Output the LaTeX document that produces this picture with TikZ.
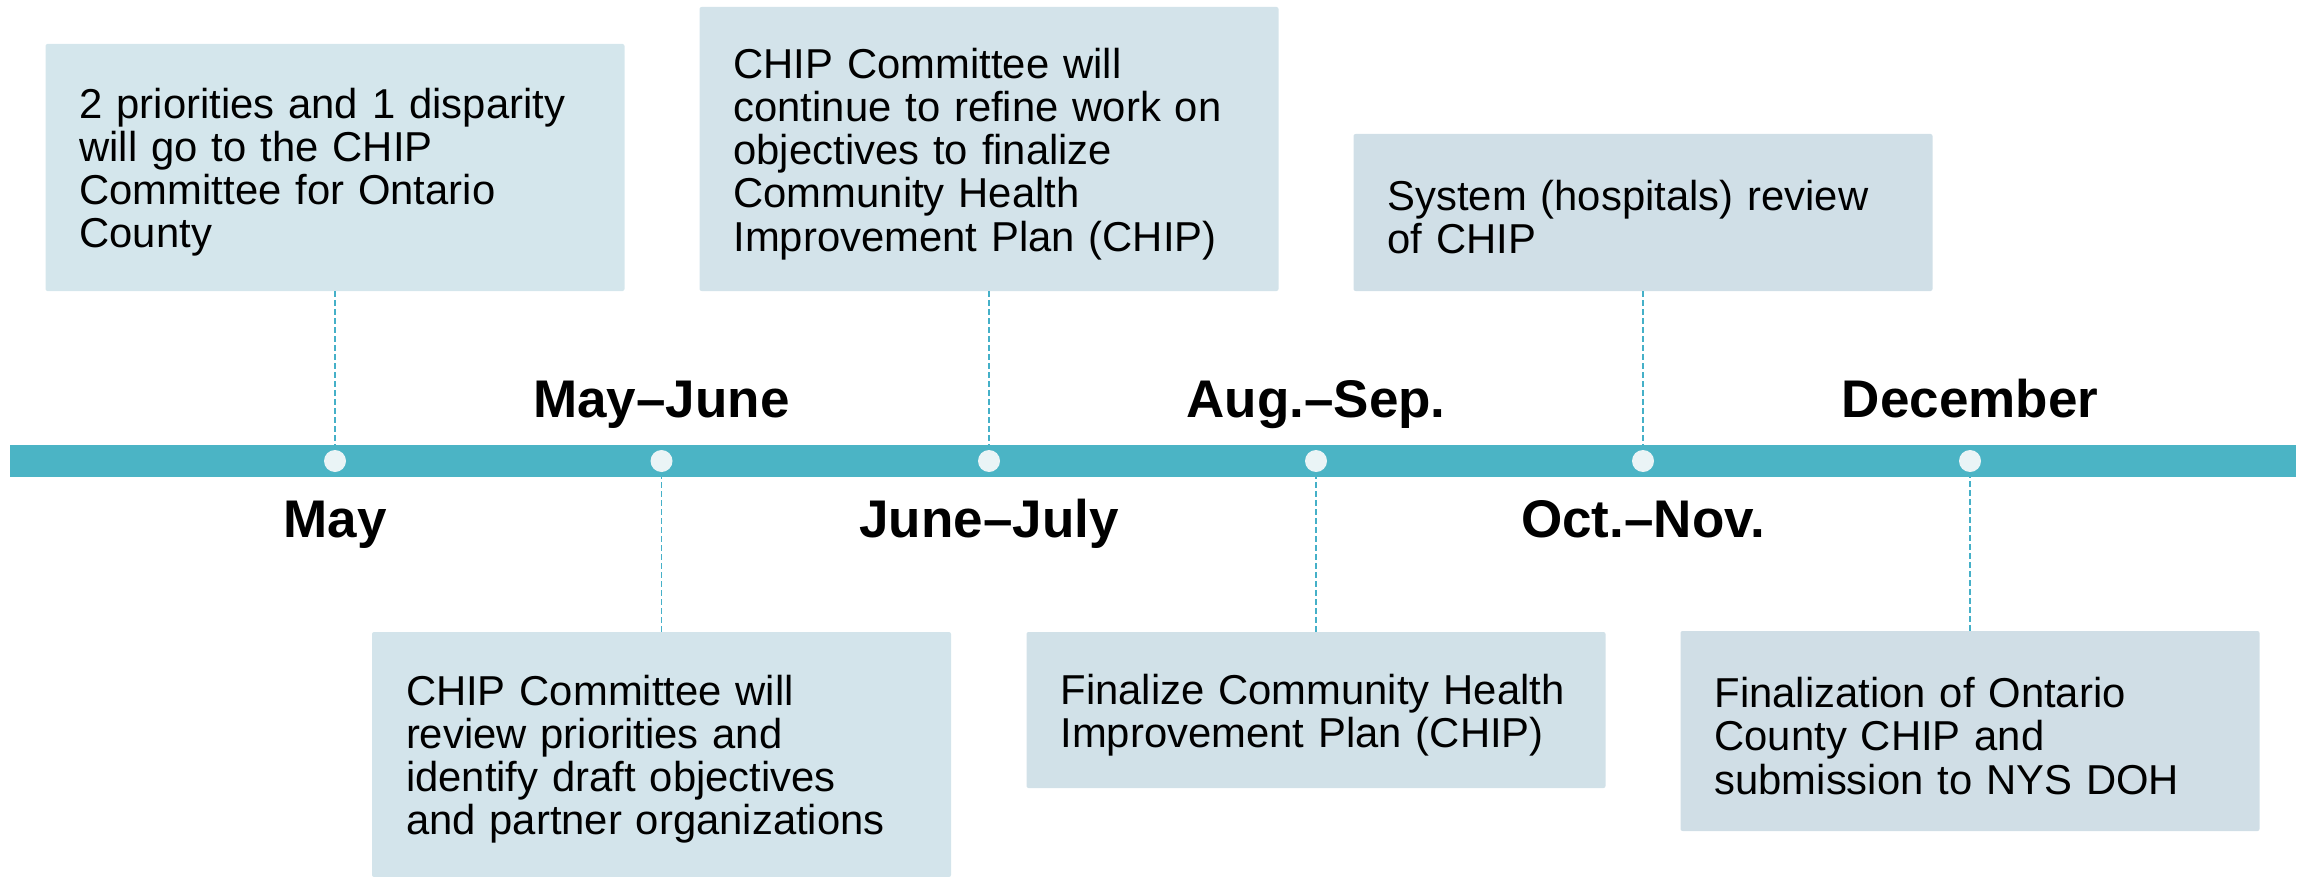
\documentclass[tikz,border=0pt]{standalone}
\usepackage{fontspec}
\setmainfont{Liberation Sans}
\definecolor{barc}{HTML}{4BB4C5}
\definecolor{dotc}{HTML}{EAF4F6}
\definecolor{linec}{HTML}{45B0C8}
\definecolor{cA}{HTML}{D4E6EC}
\definecolor{cB}{HTML}{D3E4EB}
\definecolor{cC}{HTML}{D3E3EA}
\definecolor{cD}{HTML}{D1E1E8}
\definecolor{cE}{HTML}{D0DFE7}
\definecolor{cF}{HTML}{D0DEE6}
\newcommand{\tstrut}{\rule{0pt}{20pt}}
\begin{document}
\begin{tikzpicture}[x=0.5pt,y=-0.5pt,
  box/.style={rectangle, rounded corners=1pt, inner xsep=17pt, inner ysep=0pt,
    text width=255.5pt, align=left, anchor=center,
    font=\fontsize{20.9pt}{21.6pt}\selectfont},
  lbl/.style={font=\fontsize{26.5pt}{30pt}\selectfont\bfseries, anchor=base, inner sep=0pt},
  tdot/.style={circle, fill=dotc, minimum size=11pt, inner sep=0pt},
  conn/.style={draw=linec, line width=0.75pt, dash pattern=on 3pt off 1.5pt}]
\useasboundingbox (0,0) rectangle (2305,877);
% bar
\node[fill=barc, minimum width=1143pt, minimum height=16pt, inner sep=0pt] (bar) at (1153,461) {};
% dots
\node[tdot] (d1) at (335,461) {};
\node[tdot] (d2) at (661.5,461) {};
\node[tdot] (d3) at (989,461) {};
\node[tdot] (d4) at (1316,461) {};
\node[tdot] (d5) at (1643,461) {};
\node[tdot] (d6) at (1970,461) {};
% boxes
\node[box, fill=cA, minimum height=123.5pt] (b1) at (335,167.5)
  {\tstrut 2 priorities and 1 disparity\\will go to the CHIP\\Committee for Ontario\\County};
\node[box, fill=cB, minimum height=122.5pt] (b2) at (661.5,754.5)
  {\tstrut CHIP Committee will\\review priorities and\\identify draft objectives\\and partner organizations};
\node[box, fill=cC, minimum height=142pt] (b3) at (989,149)
  {\tstrut CHIP Committee will\\continue to refine work on\\objectives to finalize\\Community Health\\Improvement Plan (CHIP)};
\node[box, fill=cD, minimum height=78pt] (b4) at (1316,710)
  {\tstrut Finalize Community Health\\Improvement Plan (CHIP)};
\node[box, fill=cE, minimum height=78.5pt] (b5) at (1643,212.5)
  {\tstrut System (hospitals) review\\of CHIP};
\node[box, fill=cF, minimum height=100pt] (b6) at (1970,731)
  {\tstrut Finalization of Ontario\\County CHIP and\\submission to NYS DOH};
% connectors
\draw[conn] (b1.south) -- (b1.south |- bar.north);
\draw[conn] (b3.south) -- (b3.south |- bar.north);
\draw[conn] (b5.south) -- (b5.south |- bar.north);
\draw[conn] (b2.north) -- (b2.north |- bar.south);
\draw[conn] (b4.north) -- (b4.north |- bar.south);
\draw[conn] (b6.north) -- (b6.north |- bar.south);
% labels
\node[lbl] (l1) at (335,537) {May};
\node[lbl] (l2) at (661.5,417) {May–June};
\node[lbl] (l3) at (989,537) {June–July};
\node[lbl] (l4) at (1316,417) {Aug.–Sep.};
\node[lbl] (l5) at (1643,537) {Oct.–Nov.};
\node[lbl] (l6) at (1970,417) {December};
\end{tikzpicture}
\end{document}
